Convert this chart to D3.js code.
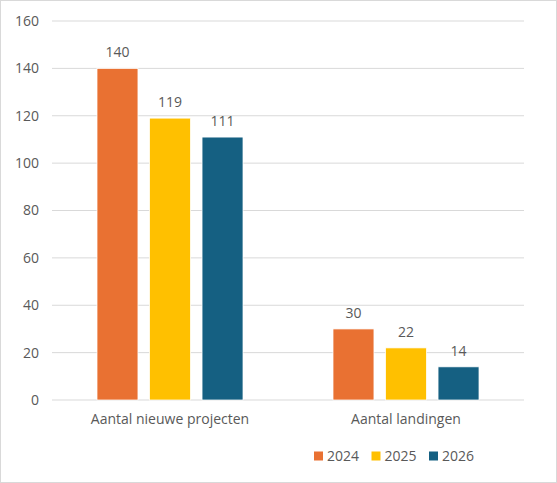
<!DOCTYPE html>
<html lang="nl">
<head>
<meta charset="utf-8">
<title>Aantal projecten en landingen</title>
<style>
  body { margin: 0; background: #fff; }
  text { font-family: "Open Sans", "Noto Sans", sans-serif; fill: #595959; }
</style>
<script src="https://cdn.jsdelivr.net/npm/d3@7"></script>
</head>
<body>
<svg width="557" height="483"></svg>
<script>
var categories = ["Aantal nieuwe projecten", "Aantal landingen"];
var years = ["2024", "2025", "2026"];
var values2024 = [140, 30];
var values2025 = [119, 22];
var values2026 = [111, 14];
var yTicks = [0, 20, 40, 60, 80, 100, 120, 140, 160];
var colors = ["#E97132", "#FFC000", "#156082"];

var series = [values2024, values2025, values2026];

var svg = d3.select("svg"),
    margin = {top: 21, right: 33, bottom: 83, left: 52},
    width = +svg.attr("width") - margin.left - margin.right,
    height = +svg.attr("height") - margin.top - margin.bottom;

// chart border
svg.append("rect")
    .attr("x", 0.5).attr("y", 0.5)
    .attr("width", 556).attr("height", 482)
    .attr("fill", "#fff")
    .attr("stroke", "#d9d9d9");

var g = svg.append("g")
    .attr("transform", "translate(" + margin.left + "," + margin.top + ")");

var x0 = d3.scaleBand().domain(categories).range([0, width]);
var x1 = d3.scaleBand().domain(years).range([45, x0.bandwidth() - 45]).paddingInner(0.22);
var y = d3.scaleLinear().domain([0, 160]).range([height, 0]);

// gridlines
g.selectAll(".grid")
    .data(yTicks)
    .enter().append("line")
    .attr("x1", 0).attr("x2", width)
    .attr("y1", function(d) { return y(d); })
    .attr("y2", function(d) { return y(d); })
    .attr("stroke", "#d9d9d9")
    .attr("stroke-width", 1);

// y axis labels
var yAxis = g.append("g")
    .call(d3.axisLeft(y).tickValues(yTicks).tickSize(0).tickPadding(13));
yAxis.select(".domain").remove();
yAxis.selectAll("text").style("font-size", "14px").attr("fill", "#595959");

// x axis labels
var xAxis = g.append("g")
    .attr("transform", "translate(0," + height + ")")
    .call(d3.axisBottom(x0).tickSize(0).tickPadding(14));
xAxis.select(".domain").remove();
xAxis.selectAll("text").style("font-size", "14px").attr("fill", "#595959");

// bars
var groups = g.selectAll(".cat")
    .data(categories)
    .enter().append("g")
    .attr("transform", function(d) { return "translate(" + x0(d) + ",0)"; });

years.forEach(function(yr, si) {
  groups.append("rect")
      .attr("x", x1(yr))
      .attr("width", x1.bandwidth())
      .attr("y", function(d, i) { return y(series[si][i]); })
      .attr("height", function(d, i) { return height - y(series[si][i]); })
      .attr("fill", colors[si])
      .attr("stroke", "#fff")
      .attr("stroke-width", 0.75);
  groups.append("text")
      .attr("x", x1(yr) + x1.bandwidth() / 2)
      .attr("y", function(d, i) { return y(series[si][i]) - 11; })
      .attr("text-anchor", "middle")
      .style("font-size", "14px")
      .text(function(d, i) { return series[si][i]; });
});

// legend
var legend = svg.append("g").attr("transform", "translate(314,456)");
var items = legend.selectAll(".item")
    .data(years)
    .enter().append("g")
    .attr("transform", function(d, i) { return "translate(" + (i * 57.5) + ",0)"; });
items.append("rect")
    .attr("x", 0).attr("y", -4.5)
    .attr("width", 9).attr("height", 9)
    .attr("fill", function(d, i) { return colors[i]; });
items.append("text")
    .attr("x", 13).attr("y", 0)
    .attr("dy", "0.35em")
    .style("font-size", "14px")
    .text(function(d) { return d; });
</script>
</body>
</html>
